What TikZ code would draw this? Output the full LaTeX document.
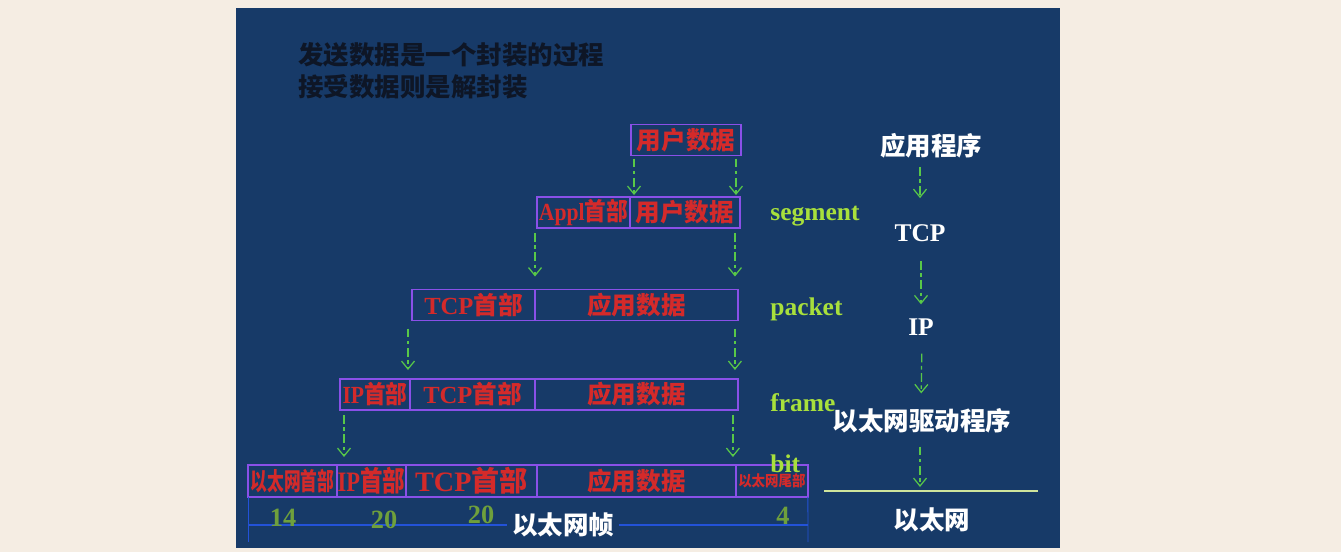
\documentclass[tikz,border=0pt]{standalone}
\usepackage{fontspec}
\usepackage{graphicx}
\setmainfont{Liberation Serif}
\newfontfamily\cjk{Noto Sans CJK SC}
\usetikzlibrary{arrows.meta,positioning,calc}
\definecolor{pagebg}{HTML}{F5EDE3}
\definecolor{panelbg}{HTML}{173A68}
\definecolor{fieldline}{HTML}{8A50E8}
\definecolor{fieldred}{HTML}{D42A2A}
\definecolor{tagyellow}{HTML}{A8E03C}
\definecolor{flowgreen}{HTML}{58C848}
\definecolor{numgreen}{HTML}{6FA03C}
\definecolor{dimblue}{HTML}{2352D8}
\definecolor{wireline}{HTML}{CFE49C}
\definecolor{notedark}{HTML}{0E1626}
\newcommand{\zh}[1]{{\cjk #1}}
\newcommand{\sq}[2]{\scalebox{#1}[1]{#2}}
\tikzset{
  field/.style={draw=fieldline,line width=0.8pt,minimum height=0.62cm,inner sep=0pt,outer sep=0pt,text=fieldred,font=\fontsize{14}{16}\selectfont\bfseries},
  bigfield/.style={field,minimum height=0.64cm},
  tag/.style={anchor=west,inner sep=0pt,text=tagyellow,font=\fontsize{14.5}{16}\selectfont\bfseries},
  layer/.style={inner sep=0pt,text=white,font=\fontsize{14.5}{16}\selectfont\bfseries},
  note/.style={anchor=west,inner sep=0pt,text=notedark,font=\fontsize{14.5}{17}\selectfont\cjk\bfseries},
  size/.style={inner sep=0pt,text=numgreen,font=\fontsize{15}{16}\selectfont\bfseries},
  flow/.style={-{Straight Barb[length=1.6mm,width=2.6mm]},draw=flowgreen,line width=0.7pt,dash pattern=on 5pt off 2pt on 2pt off 2pt},
  dim/.style={draw=dimblue,line width=0.8pt}
}
\begin{document}
\begin{tikzpicture}[x=0.02cm,y=-0.02cm,node distance=0pt]
\fill[pagebg] (0,0) rectangle (1341,552);
\fill[panelbg] (236,8) rectangle (1060,548);
\useasboundingbox (0,0) rectangle (1341,552);
% note
\node[note] (note1) at (298,55) {发送数据是一个封装的过程};
\node[note] (note2) at (298,87) {接受数据则是解封装};
% row 1
\node[field,anchor=west,minimum width=2.2cm] (u1) at (631,140) {\zh{用户数据}};
% row 2
\node[field,anchor=west,minimum width=1.86cm] (a2) at (537,212.5) {\sq{0.88}{Appl\zh{首部}}};
\node[field,right=of a2,minimum width=2.2cm] (u2) {\zh{用户数据}};
% row 3
\node[field,anchor=west,minimum width=2.46cm] (t3) at (412,305) {TCP\zh{首部}};
\node[field,right=of t3,minimum width=4.06cm] (d3) {\zh{应用数据}};
% row 4
\node[field,anchor=west,minimum width=1.4cm] (i4) at (340,394.5) {\sq{0.88}{IP\zh{首部}}};
\node[field,right=of i4,minimum width=2.5cm] (t4) {TCP\zh{首部}};
\node[field,right=of t4,minimum width=4.06cm] (d4) {\zh{应用数据}};
% row 5
\node[bigfield,anchor=west,minimum width=1.78cm] (e5) at (248,481) {\sq{0.68}{\zh{以太网首部}}};
\node[bigfield,right=of e5,minimum width=1.38cm] (i5) {\fontsize{16}{18}\selectfont\sq{0.8}{IP\zh{首部}}};
\node[bigfield,right=of i5,minimum width=2.62cm] (t5) {\fontsize{16}{18}\selectfont TCP\zh{首部}};
\node[bigfield,right=of t5,minimum width=3.98cm] (d5) {\zh{应用数据}};
\node[bigfield,right=of d5,minimum width=1.44cm] (f5) {\fontsize{8.5}{10}\selectfont\sq{0.9}{\zh{以太网尾部}}};
% arrows between rows
\draw[flow] ($(u1.south west)+(3,3)$) -- ($(u1.south west |- a2.north)+(3,-2)$);
\draw[flow] ($(u1.south east)+(-5,3)$) -- ($(u1.south east |- a2.north)+(-5,-2)$);
\draw[flow] ($(a2.south west)+(-2,5)$) -- ($(a2.south west |- t3.north)+(-2,-13)$);
\draw[flow] ($(u2.south east)+(-5,5)$) -- ($(u2.south east |- t3.north)+(-5,-13)$);
\draw[flow] ($(t3.south west)+(-4,8)$) -- ($(t3.south west |- i4.north)+(-4,-9)$);
\draw[flow] ($(d3.south east)+(-3,8)$) -- ($(d3.south east |- i4.north)+(-3,-9)$);
\draw[flow] ($(i4.south west)+(4,5)$) -- ($(i4.south west |- e5.north)+(4,-8)$);
\draw[flow] ($(d4.south east)+(-5,5)$) -- ($(d4.south east |- e5.north)+(-5,-8)$);
% unit names
\node[tag] (seg) at (770,216) {segment};
\node[tag] (pkt) at (770,309) {packet};
\node[tag] (frm) at (770,403) {frame};
\node[tag] (bit) at (770,464) {bit};
% sizes
\coordinate (dl) at (248,525);
\coordinate (dr) at (808,525);
\coordinate (dlb) at (248,542);
\coordinate (drb) at (808,542);
\draw[dim] (dl) -- (dr);
\draw[dim,line width=0.5pt] (e5.south west) -- (dlb);
\draw[dim,line width=0.5pt] (f5.south east) -- (drb);
\node[size] (n14) at (283,518) {14};
\node[size] (n20a) at (384,520) {20};
\node[size] (n20b) at (481,515) {20};
\node[size] (n4) at (783,516) {4};
\node[layer,fill=panelbg,inner xsep=3pt,inner ysep=1pt] (eframe) at (563,525) {\zh{以太网帧}};
% layers
\node[layer] (app) at (931,146) {\zh{应用程序}};
\node[layer] (tcp) at (920,233) {TCP};
\node[layer] (ip) at (921,327) {IP};
\node[layer] (drv) at (922,421) {\zh{以太网驱动程序}};
\node[layer] (eth) at (932,520) {\zh{以太网}};
\coordinate (wl) at (824,491);
\coordinate (wr) at (1038,491);
\coordinate (wm) at (920,491);
\draw[draw=wireline,line width=0.9pt] (wl) -- (wr);
\draw[flow,shorten <=0.16cm,shorten >=0.52cm] (app.south -| tcp) -- (tcp.north);
\draw[flow,shorten <=0.38cm,shorten >=0.28cm] (tcp.south -| ip) -- (ip.north);
\draw[flow,shorten <=0.36cm,shorten >=0.3cm] (ip.south -| drv) -- (drv.north -| ip);
\draw[flow,shorten <=0.26cm,shorten >=0.08cm] (drv.south -| wm) -- (wm);
\end{tikzpicture}
\end{document}
